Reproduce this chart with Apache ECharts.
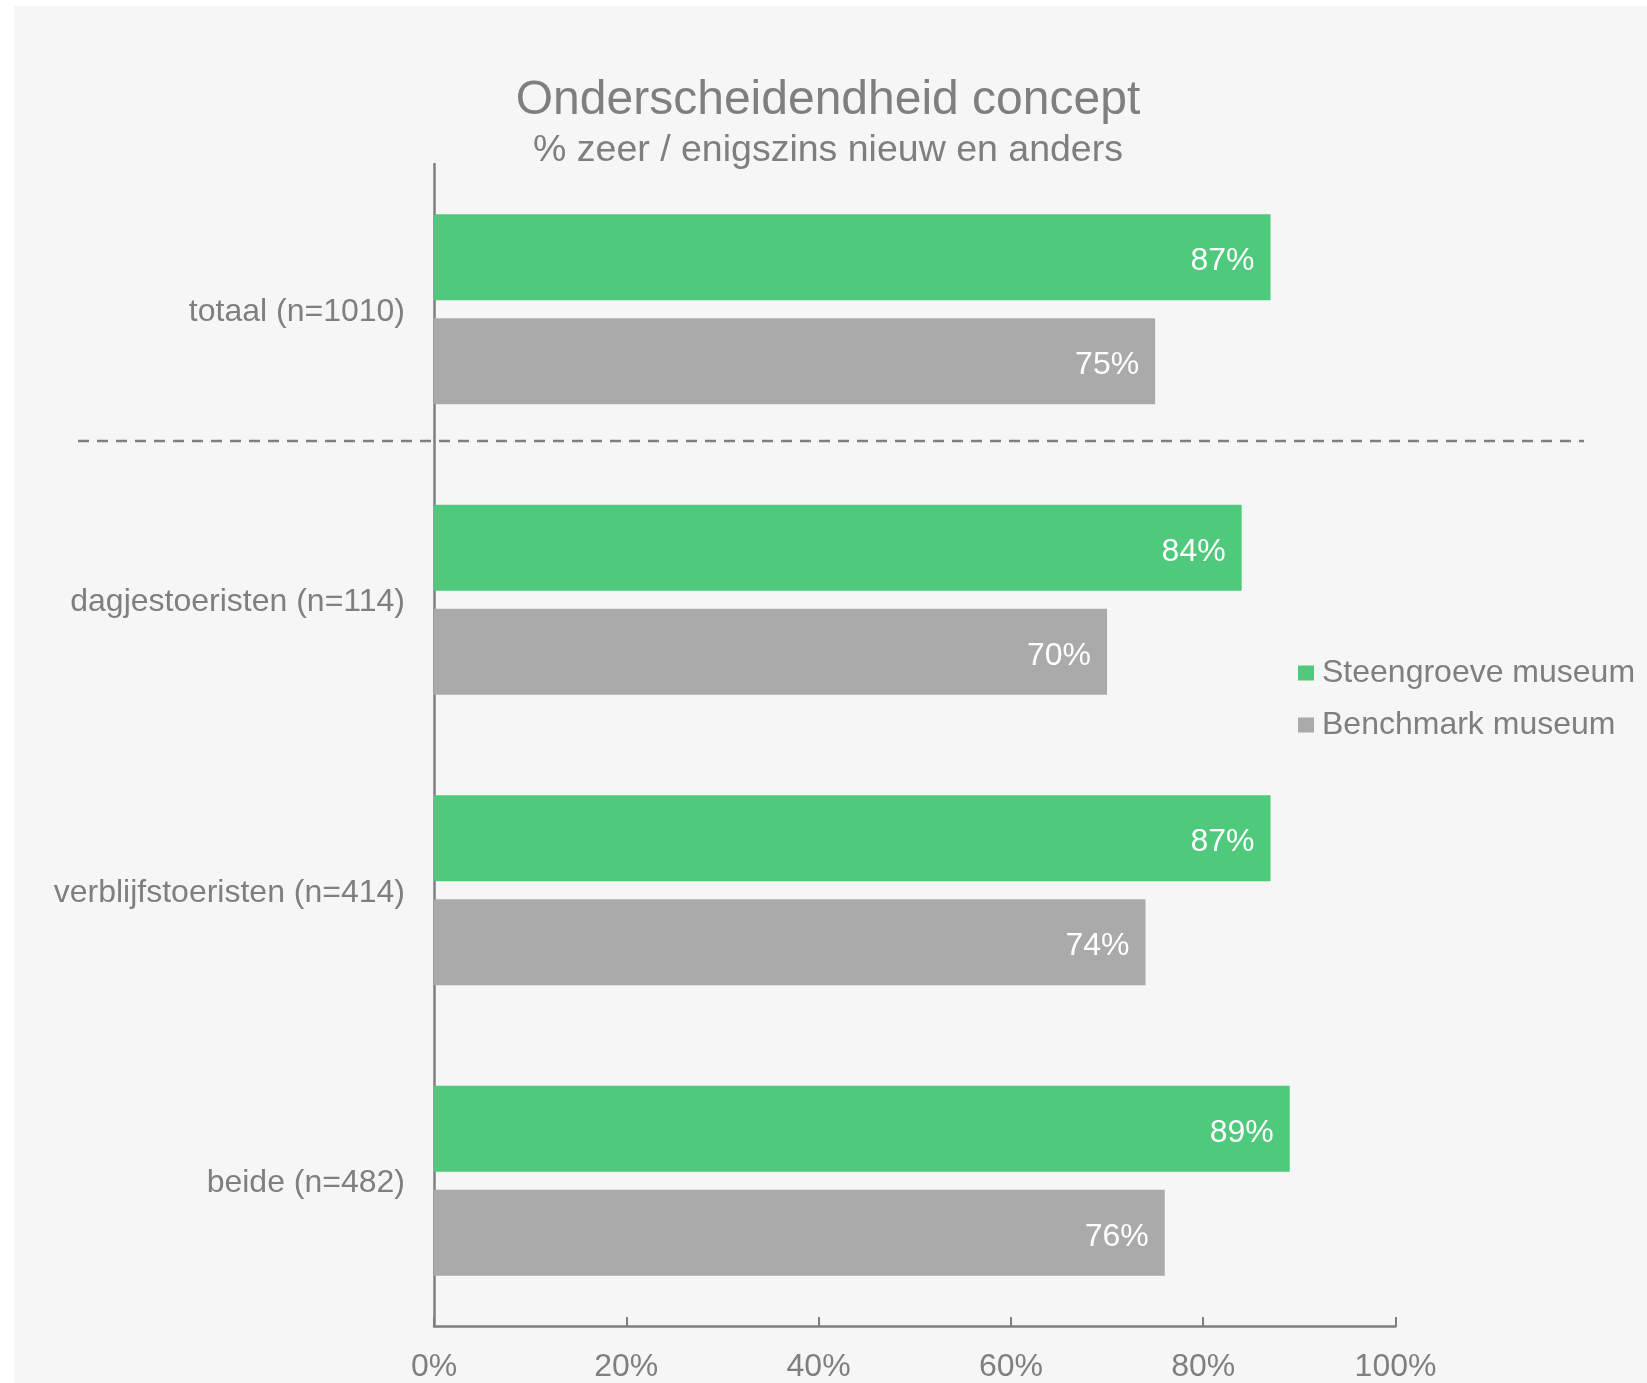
<!DOCTYPE html>
<html>
<head>
<meta charset="utf-8">
<title>Onderscheidendheid concept</title>
<script src="https://cdn.jsdelivr.net/npm/echarts@6/dist/echarts.min.js"></script>
<style>
  html, body { margin: 0; padding: 0; background: #ffffff; }
  #panel { position: absolute; left: 14px; top: 6px; width: 1633px; height: 1377px; background: #f6f6f6; }
  #chart { position: absolute; left: 0; top: 0; width: 1647px; height: 1383px; }
</style>
</head>
<body>
<div id="panel"></div>
<div id="chart"></div>
<script>
// Respondent groups (top to bottom)
const categories = ['totaal (n=1010)', 'dagjestoeristen (n=114)', 'verblijfstoeristen (n=414)', 'beide (n=482)'];
// % zeer / enigszins nieuw en anders
const steengroeve = [87, 84, 87, 89];
const benchmark = [75, 70, 74, 76];
const seriesNames = ['Steengroeve museum', 'Benchmark museum'];
// x-axis ticks: 0% .. 100% in steps of 20
const xMin = 0;
const xMax = 100;
const xStep = 20;

const FONT = "'Liberation Sans', Arial, Helvetica, sans-serif";
const TEXT = '#7f7f7f';
const GREEN = '#4fc97c';
const GREY = '#aaaaaa';

const chart = echarts.init(document.getElementById('chart'), null, { renderer: 'canvas' });

const barLabel = {
  show: true,
  position: 'insideRight',
  distance: 16,
  offset: [0, 4],
  color: '#ffffff',
  fontFamily: FONT,
  fontSize: 32,
  formatter: p => p.value + '%'
};

chart.setOption({
  backgroundColor: 'transparent',
  animation: false,
  textStyle: { fontFamily: FONT },
  title: {
    text: 'Onderscheidendheid concept',
    subtext: '% zeer / enigszins nieuw en anders',
    left: 828,
    textAlign: 'center',
    top: 77,
    padding: 0,
    itemGap: 7,
    textStyle: { fontFamily: FONT, fontSize: 48, lineHeight: 48, fontWeight: 'normal', color: TEXT },
    subtextStyle: { fontFamily: FONT, fontSize: 37.5, lineHeight: 37, color: TEXT }
  },
  legend: {
    orient: 'vertical',
    left: 1298,
    top: 657,
    padding: 0,
    itemWidth: 16,
    itemHeight: 15,
    itemGap: 20,
    icon: 'rect',
    data: seriesNames,
    textStyle: { fontFamily: FONT, fontSize: 32, lineHeight: 32, color: TEXT, padding: [0, 0, 0, 3] }
  },
  grid: { left: 434, right: 251.5, top: 164, bottom: 57, containLabel: false },
  xAxis: {
    type: 'value',
    min: xMin,
    max: xMax,
    interval: xStep,
    axisLine: { show: true, lineStyle: { color: TEXT, width: 2.5 } },
    axisTick: { show: true, inside: true, length: 9, lineStyle: { color: TEXT, width: 2 } },
    splitLine: { show: false },
    axisLabel: { fontFamily: FONT, fontSize: 32, lineHeight: 32, color: TEXT, margin: 25, formatter: '{value}%' }
  },
  yAxis: {
    type: 'category',
    inverse: true,
    data: categories,
    axisLine: { show: true, lineStyle: { color: TEXT, width: 2.5 } },
    axisTick: { show: false },
    splitLine: { show: false },
    axisLabel: { fontFamily: FONT, fontSize: 32, color: TEXT, margin: 29, interval: 0, verticalAlign: 'top', lineHeight: 5 }
  },
  series: [
    {
      name: seriesNames[0],
      type: 'bar',
      data: steengroeve,
      barWidth: 86,
      barGap: '21%',
      itemStyle: { color: GREEN },
      label: barLabel
    },
    {
      name: seriesNames[1],
      type: 'bar',
      data: benchmark,
      barWidth: 86,
      itemStyle: { color: GREY },
      label: barLabel
    }
  ],
  graphic: [
    {
      // separator between the total and the subgroups
      type: 'line',
      shape: { x1: 78, y1: 441, x2: 1584, y2: 441 },
      style: { stroke: TEXT, lineWidth: 2.5, lineDash: [11, 8] },
      z: 10
    }
  ]
});
</script>
</body>
</html>
